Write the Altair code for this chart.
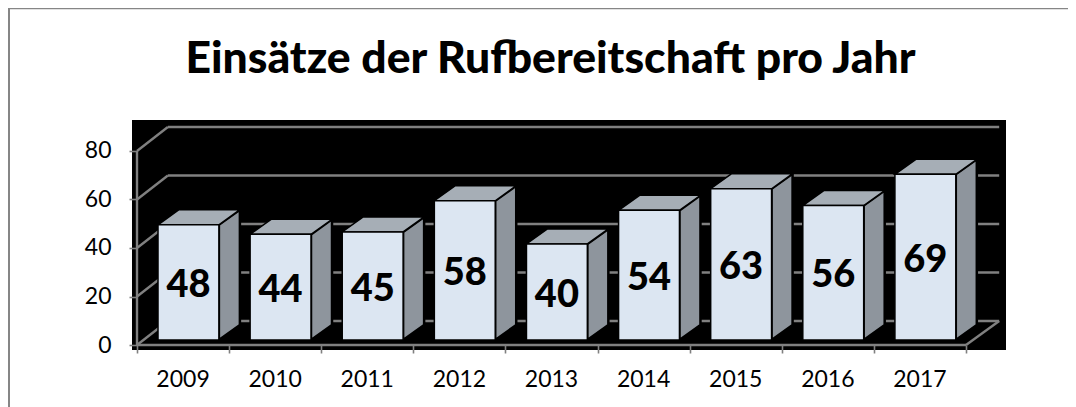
import altair as alt
import pandas as pd

years = [2009, 2010, 2011, 2012, 2013, 2014, 2015, 2016, 2017]
values = [48, 44, 45, 58, 40, 54, 63, 56, 69]
y_ticks = [0, 20, 40, 60, 80]
title_text = "Einsätze der Rufbereitschaft pro Jahr"

# perspective of the pseudo-3D drawing, in data units
WALL_DX, WALL_DY, WALL_END = 0.335, 9.9, 9.36
BAR_L, BAR_R, BAR_BASE, BAR_K = 0.228, 0.889, 2.06, 0.99
SIDE_DX, SIDE_DY = 0.228, 6.2
FONT = "Lato"
LINE = "#808080"

x_scale = alt.Scale(domain=[-0.0543, 9.434], nice=False, zero=False)
y_scale = alt.Scale(domain=[-2.06, 92.78], nice=False, zero=False)

rows = []
for v in y_ticks:
    rows.append(dict(x=0, x2=WALL_DX, y=v, y2=v + WALL_DY))
    rows.append(dict(x=WALL_DX, x2=WALL_END, y=v + WALL_DY, y2=v + WALL_DY))
rows.append(dict(x=0, x2=len(years), y=0, y2=0))
rows.append(dict(x=len(years), x2=WALL_END, y=0, y2=WALL_DY))
rows.append(dict(x=0, x2=0, y=0, y2=y_ticks[-1]))
walls = pd.DataFrame(rows)

fronts, sides, tops = [], [], []
for i, (yr, v) in enumerate(zip(years, values)):
    l, r = i + BAR_L, i + BAR_R
    b, t = BAR_BASE, BAR_BASE + v * BAR_K
    fronts.append(dict(year=yr, v=v, l=l, r=r, b=b, t=t, c=(b + t) / 2 - 1.5, m=(l + r) / 2, lab=i + 0.5))
    sides.append(dict(year=yr, x=r, y=b, y2=t))
    sides.append(dict(year=yr, x=r + SIDE_DX, y=b + SIDE_DY, y2=t + SIDE_DY))
    tops.append(dict(year=yr, y=t, x=l, x2=r))
    tops.append(dict(year=yr, y=t + SIDE_DY, x=l + SIDE_DX, x2=r + SIDE_DX))
fronts, sides, tops = pd.DataFrame(fronts), pd.DataFrame(sides), pd.DataFrame(tops)

wall_layer = alt.Chart(walls).mark_rule(color=LINE, strokeWidth=2.4).encode(
    x=alt.X("x:Q", scale=x_scale, title=None, axis=alt.Axis(
        values=list(range(len(years) + 1)), labels=False, title=None, domain=False, grid=False,
        tickColor=LINE, tickWidth=1.6, tickSize=8, offset=-5)),
    x2="x2:Q",
    y=alt.Y("y:Q", scale=y_scale, title=None, axis=alt.Axis(
        values=y_ticks, title=None, domain=False, grid=False, tickColor=LINE, tickWidth=1.6,
        tickSize=8, offset=-5, labelFont=FONT, labelFontSize=23, labelColor="#000000", labelPadding=18)),
    y2="y2:Q",
)

side_layer = alt.Chart(sides).mark_area(color="#8E959D", stroke="#000000", strokeWidth=2.5, line=False).encode(
    x=alt.X("x:Q", scale=x_scale, title=None),
    y=alt.Y("y:Q", scale=y_scale, title=None),
    y2="y2:Q",
    detail="year:O",
)
top_layer = alt.Chart(tops).mark_area(color="#A6AEB6", stroke="#000000", strokeWidth=1.5, orient="horizontal").encode(
    y=alt.Y("y:Q", scale=y_scale, title=None),
    x=alt.X("x:Q", scale=x_scale, title=None),
    x2="x2:Q",
    detail="year:O",
)
front_layer = alt.Chart(fronts).mark_rect(color="#DCE6F2", stroke="#000000", strokeWidth=1.5).encode(
    x=alt.X("l:Q", scale=x_scale, title=None),
    x2="r:Q",
    y=alt.Y("b:Q", scale=y_scale, title=None),
    y2="t:Q",
)
value_layer = alt.Chart(fronts).mark_text(font=FONT, fontWeight=900, fontSize=38, color="#000000", baseline="middle").encode(
    x=alt.X("m:Q", scale=x_scale, title=None),
    y=alt.Y("c:Q", scale=y_scale, title=None),
    text="v:Q",
)
year_layer = alt.Chart(fronts).mark_text(font=FONT, fontSize=23, color="#000000", baseline="middle").encode(
    x=alt.X("lab:Q", scale=x_scale, title=None),
    y=alt.value(260),
    text="year:O",
)
one = pd.DataFrame({"label": [title_text]})
frame_top = alt.Chart(one).mark_rule(color="#868686", strokeWidth=1.5).encode(
    x=alt.value(-123), x2=alt.value(936), y=alt.value(-111.5), y2=alt.value(-111.5))
frame_left = alt.Chart(one).mark_rule(color="#868686", strokeWidth=2).encode(
    x=alt.value(-123), x2=alt.value(-123), y=alt.value(-112), y2=alt.value(287))
title_layer = alt.Chart(one).mark_text(font=FONT, fontWeight=900, fontSize=44.5, color="#000000",
                                       baseline="middle", align="center").encode(
    x=alt.value(418.5), y=alt.value(-60), text="label:N")

chart = alt.layer(
    wall_layer, side_layer, top_layer, front_layer, value_layer, year_layer, frame_top, frame_left, title_layer
).properties(
    width=874, height=230,
    padding={"left": 124, "top": 112, "right": 62, "bottom": 57},
    autosize=alt.AutoSizeParams(type="none"),
).configure_view(fill="#000000", stroke=None)

chart.save("out.html", embed_options={"renderer": "svg", "actions": False})
